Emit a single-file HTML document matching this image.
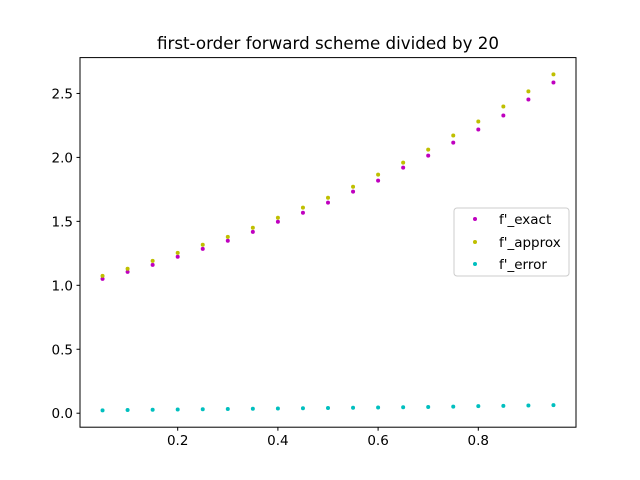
<!DOCTYPE html>
<html><head><meta charset="utf-8"><style>
body{margin:0;background:#fff}
svg{display:block;font-family:"DejaVu Sans","Liberation Sans",sans-serif}
</style></head><body>
<svg id="chart" width="640" height="480">
<rect width="640" height="480" fill="#fff"/>
<text x="328" y="49" text-anchor="middle" font-size="16.7">first-order forward scheme divided by 20</text>
<g id="marks"></g>
<rect x="80" y="57.6" width="496" height="369.6" fill="none" stroke="#000" stroke-width="1"/>
<g id="axes"></g>
<g>
<rect x="454" y="208" width="115" height="68" rx="3" fill="#fff" fill-opacity="0.8" stroke="#ccc"/>
<circle cx="475" cy="219" r="2" fill="#bf00bf"/>
<text x="499" y="224" font-size="13.5">f'_exact</text>
<circle cx="475" cy="242" r="2" fill="#bfbf00"/>
<text x="499" y="247" font-size="13.5">f'_approx</text>
<circle cx="475" cy="264" r="2" fill="#00bfbf"/>
<text x="499" y="269" font-size="13.5">f'_error</text>
</g>
</svg>
<script>
const xs=[0.05,0.1,0.15,0.2,0.25,0.3,0.35,0.4,0.45,0.5,0.55,0.6,0.65,0.7,0.75,0.8,0.85,0.9,0.95];
const exactVals=[1.05,1.105,1.16,1.223,1.285,1.348,1.418,1.497,1.567,1.646,1.732,1.818,1.92,2.014,2.116,2.218,2.328,2.453,2.586];
const approxVals=[1.074,1.129,1.191,1.254,1.317,1.379,1.45,1.528,1.607,1.685,1.771,1.865,1.959,2.061,2.171,2.281,2.398,2.516,2.649];
const errorVals=[0.022,0.025,0.027,0.029,0.031,0.033,0.035,0.037,0.039,0.041,0.043,0.045,0.047,0.049,0.052,0.055,0.057,0.060,0.063];
const xTicks=[0.2,0.4,0.6,0.8];
const yTicks=[0.0,0.5,1.0,1.5,2.0,2.5];
const NS="http://www.w3.org/2000/svg";
const L=80,R=576,T=57.6,B=427.2;
const all=exactVals.concat(approxVals,errorVals);
const xmin=Math.min(...xs),xmax=Math.max(...xs),xp=(xmax-xmin)*0.05;
const ymin=Math.min(...all),ymax=Math.max(...all),yp=(ymax-ymin)*0.05;
const sx=v=>L+(v-(xmin-xp))/((xmax+xp)-(xmin-xp))*(R-L);
const sy=v=>B-(v-(ymin-yp))/((ymax+yp)-(ymin-yp))*(B-T);
const marks=document.getElementById('marks'),axes=document.getElementById('axes');
function series(vals,color,name){
  vals.forEach((v,i)=>{
    const c=document.createElementNS(NS,'circle');
    c.setAttribute('cx',sx(xs[i]));c.setAttribute('cy',sy(v));c.setAttribute('r',2);c.setAttribute('fill',color);
    
    
    marks.appendChild(c);
  });
}
series(exactVals,'#bf00bf','exact');
series(approxVals,'#bfbf00','approx');
series(errorVals,'#00bfbf','error');
xTicks.forEach(t=>{
  const x=sx(t);
  const l=document.createElementNS(NS,'line');
  l.setAttribute('x1',x);l.setAttribute('x2',x);l.setAttribute('y1',B);l.setAttribute('y2',B+3.5);l.setAttribute('stroke','#000');
  
  
  axes.appendChild(l);
  const tx=document.createElementNS(NS,'text');
  tx.setAttribute('x',x);tx.setAttribute('y',B+18);tx.setAttribute('text-anchor','middle');tx.setAttribute('font-size','13.5');
  tx.textContent=t.toFixed(1);
  
  
  axes.appendChild(tx);
});
yTicks.forEach(t=>{
  const y=sy(t);
  const l=document.createElementNS(NS,'line');
  l.setAttribute('x1',L-3.5);l.setAttribute('x2',L);l.setAttribute('y1',y);l.setAttribute('y2',y);l.setAttribute('stroke','#000');
  
  
  axes.appendChild(l);
  const tx=document.createElementNS(NS,'text');
  tx.setAttribute('x',L-7);tx.setAttribute('y',y+5);tx.setAttribute('text-anchor','end');tx.setAttribute('font-size','13.5');
  tx.textContent=t.toFixed(1);
  
  
  axes.appendChild(tx);
});
</script>
</body></html>
